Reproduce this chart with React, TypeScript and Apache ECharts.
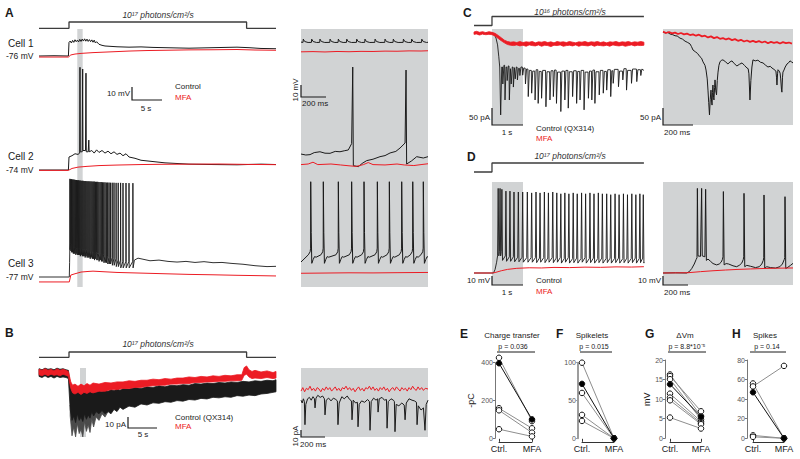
import React, { useEffect, useRef } from "react";
import * as echarts from "echarts";

// ======================= DATA =======================
// Light protocols [time (s), light on]
const stimLong = [[-5, 0], [0, 0], [0, 1], [29.6, 1], [29.6, 0], [34.5, 0]];
const stimShort = [[-0.58, 0], [0, 0], [0, 1], [4.9, 1]];
// windows shown in the insets (s)
const insetWindowA = [1.38, 2.28];
const insetWindowB = [1.83, 2.83];
const insetWindowCD = [0, 1];

// ---- Panel A, cell 1 (s, mV)
const a1Control = [[-5,-76],[-2.5,-75.8],[-0.1,-76],[0,-65.5],[0.2,-64.5],[0.4,-66],[0.6,-64],[0.8,-65.5],[1,-63.5],[1.2,-65],[1.4,-63.8],[1.6,-65.2],[1.8,-63.2],[2,-64.8],[2.2,-63],[2.4,-64.5],[2.6,-62.8],[2.8,-64.6],[3,-63],[3.2,-64.8],[3.4,-63.4],[3.6,-65],[3.8,-63.6],[4,-65.4],[4.2,-63.8],[4.4,-66],[4.6,-65],[5,-67],[5.5,-67.8],[6,-68.3],[7,-68.6],[8,-68.9],[10,-69.2],[12,-69],[14,-69.4],[16,-69.6],[18,-69.8],[20,-70],[22,-69.8],[24,-69.6],[26,-69.4],[28,-69.2],[30,-69.6],[32,-70.2],[34.5,-70.4]];
const a1MFA = [[-5,-76.8],[-0.1,-76.8],[0.3,-75.2],[1,-74.5],[2,-74],[4,-73.4],[6,-73],[8,-72.6],[10,-72.2],[13,-71.8],[16,-71.6],[20,-71.3],[24,-71.2],[28,-71],[31,-71.4],[34.5,-71.6]];
// ---- Panel A, cell 2
const a2Control = [[-5,-74],[-0.1,-74],[0,-64],[0.5,-63],[1,-61.5],[1.5,-62],[1.78,-61],[1.83,5],[1.88,-60],[2.2,-60],[2.28,3.7],[2.33,-59],[2.75,-59],[2.83,0.5],[2.88,-60],[3.2,-60],[3.3,-51],[3.36,-60],[3.8,-59],[4.2,-61],[4.6,-58.5],[5,-60.5],[5.5,-59],[6,-61],[6.5,-59.5],[7,-61.5],[7.5,-60],[8,-62],[8.5,-61],[9,-63],[9.5,-61.5],[10,-64],[11,-65],[12,-66.5],[14,-67.5],[16,-68.5],[20,-69.5],[24,-69.8],[28,-70],[32,-69.5],[34.5,-69.8]];
const a2MFA = [[-5,-74.3],[-0.1,-74.3],[0.5,-72.8],[1.5,-71.8],[3,-71.2],[5,-70.6],[8,-70.2],[12,-69.8],[16,-69.6],[20,-69.5],[25,-69.4],[30,-69.7],[34.5,-69.9]];
// ---- Panel A, cell 3: spikes [time, peak, trough]
const a3Pre = [[-5,-77],[0.05,-77],[0.1,-66]];
const a3Spikes = [[0.15,-1.5,-56],[0.28,-1.8,-57],[0.41,-1.8,-58],[0.55,-2,-58],[0.69,-2,-59],[0.83,-2.2,-59],[0.97,-2.2,-59],[1.11,-2.4,-60],[1.26,-2.4,-59],[1.41,-2.6,-60],[1.56,-2.6,-60],[1.71,-2.8,-60],[1.86,-2.8,-61],[2.02,-3,-60],[2.18,-3,-61],[2.34,-3,-61],[2.5,-3.2,-61],[2.66,-3.2,-62],[2.82,-3.2,-61],[2.99,-3.4,-62],[3.16,-3.4,-62],[3.33,-3.4,-62],[3.5,-3.5,-63],[3.68,-3.5,-62],[3.86,-3.6,-63],[4.04,-3.6,-63],[4.22,-3.6,-64],[4.41,-3.8,-63],[4.6,-3.8,-64],[4.79,-3.8,-64],[4.98,-4,-65],[5.18,-4,-64],[5.38,-4,-65],[5.58,-4.2,-65],[5.79,-4.2,-66],[6.0,-4.2,-66],[6.22,-4.4,-66],[6.44,-4.4,-67],[6.67,-4.4,-67],[6.9,-4.5,-67],[7.2,-4.5,-68],[7.5,-4.5,-68],[7.85,-4.6,-69],[8.2,-4.6,-69],[8.6,-4.6,-70],[9.0,-4.7,-70],[9.5,-4.7,-70],[10.0,-4.8,-70],[10.65,-4.8,-70]];
const a3Post = [[10.9,-64],[11.5,-62.5],[12.5,-63.5],[13.5,-64.5],[15,-64],[16.5,-65],[18,-65.5],[19.5,-65],[21,-65.8],[22.5,-65.2],[24,-66],[25.5,-65.8],[27,-66.5],[29,-67.2],[31,-68.3],[33,-69],[34.5,-68.8]];
const a3MFA = [[-5,-80.8],[0.05,-80.8],[0.3,-75.5],[1,-74.5],[2,-73.2],[3,-72.8],[4,-72.5],[6,-73],[8,-73.5],[12,-74],[16,-74.5],[20,-75],[24,-75.3],[28,-75.7],[32,-76],[34.5,-76.2]];

// ---- Panel A insets (ms, mV)
const ar1Bumps = [19, 89, 158, 242, 311, 381, 464, 533, 617, 700, 769, 853, 922, 1006];
const ar1BumpShape = [[-2,-65.3],[0,-62.6],[12,-64.6],[40,-65.4]];
const ar1MFA = [[0,-73.2],[100,-73],[200,-73.3],[300,-72.9],[400,-73.1],[500,-72.8],[600,-72.9],[700,-72.6],[800,-72.7],[900,-72.4],[1000,-72.5],[1058,-72.3]];
const ar2Control = [[0,-60.7],[40,-61.5],[75,-61.2],[110,-59.5],[158,-58.8],[200,-60],[242,-60.1],[285,-58.5],[325,-58.8],[360,-58],[394,-57.3],[422,-52],[431,11.8],[436,-70.4],[478,-71.2],[510,-68.5],[547,-66.2],[600,-65],[658,-62.9],[700,-62],[742,-59.8],[790,-58.5],[825,-55.7],[867,-51.5],[875,9.3],[880,-69],[920,-66.5],[964,-62.9],[1019,-64],[1058,-62.9]];
const ar2MFA = [[0,-69.5],[60,-69],[100,-67.5],[140,-69.5],[250,-69],[330,-69.8],[400,-70.5],[460,-71],[520,-69.5],[560,-67.8],[600,-69.5],[700,-69.8],[800,-69],[860,-69.8],[940,-70.3],[1000,-69.5],[1058,-68.8]];
const ar3SpikeTimes = [81, 186, 311, 422, 525, 636, 736, 839, 931, 1019];
const ar3SpikeShape = [[-20,-58.5],[-5,-56],[-1,-53],[0,2.4],[4,-40],[9,-65.6],[20,-62.5],[32,-60],[45,-60.5]];
const ar3Start = [[0,-64.5]];
const ar3End = [[1058,-60.5]];
const ar3MFA = [[0,-73.9],[200,-73.7],[400,-73.5],[600,-73.6],[800,-73.4],[1058,-73.2]];

// ---- Panel B (s, pA) noisy traces as envelopes [time, upper, lower]
const bControl = [[-5,3,-4],[-4.5,2,-5],[-4,3.5,-3.5],[-3.5,2.5,-5],[-3,3,-4],[-2.5,2,-5.5],[-2,3.5,-4],[-1.5,2.5,-5],[-1,3,-4.5],[-0.5,2,-5],[-0.1,1.5,-6],[0.2,-12,-34],[0.5,-17,-44],[0.8,-19,-40],[1.1,-17,-46],[1.4,-18.5,-38],[1.7,-17,-44],[2,-19,-41],[2.3,-17.5,-45],[2.6,-19,-38],[2.9,-17,-43],[3.2,-18.5,-39],[3.5,-17.5,-42],[3.8,-19,-36],[4.1,-17,-40],[4.5,-18.5,-36],[5,-17,-38],[5.5,-18,-35],[6,-16.5,-38],[6.5,-17.5,-36],[7,-16,-38],[7.5,-17,-34],[8,-15.5,-36],[8.5,-16.5,-32],[9,-15,-34],[10,-15.5,-31],[11,-14,-32],[12,-15,-29],[13,-13.5,-30],[14,-14,-28],[15,-12.5,-28.5],[16,-13.5,-27],[17,-12,-27.5],[18,-12.5,-26],[19,-11.5,-26.5],[20,-12,-25],[21,-10.5,-25.5],[22,-11,-24],[23,-10,-24.5],[24,-10.5,-23],[25,-9.5,-23.5],[26,-10,-22.5],[27,-9,-23],[28,-9.5,-21.5],[29,-8.5,-22],[30,-9,-21],[31,-8,-21.5],[32,-8.5,-20],[33,-7.5,-19.5],[34,-8,-18.5],[34.5,-7,-18]];
// deepest, sparser downward events of the control trace just after light onset
const bControlDeep = [[0.2,-30,-40],[0.5,-40,-58],[0.8,-36,-50],[1.1,-42,-59],[1.4,-35,-47],[1.7,-40,-56],[2,-38,-52],[2.3,-41,-59],[2.6,-35,-45],[2.9,-39,-54],[3.2,-36,-48],[3.5,-39,-55],[3.8,-33,-43],[4.1,-37,-50],[4.5,-33,-41],[5,-35,-44],[5.5,-33,-38],[6,-35,-41],[6.5,-34,-36]];
const bMFA = [[-5,2.5,-2.5],[-4.5,1.5,-3.5],[-4,3,-2],[-3.5,1.5,-3.5],[-3,2.5,-2],[-2.5,1,-3],[-2,3,-2.5],[-1.5,1.5,-3.5],[-1,2.5,-2],[-0.5,1.5,-3],[-0.1,0.5,-4],[0.3,-9,-15],[0.6,-12,-19],[1,-11,-20],[1.5,-13,-18.5],[2,-11,-20.5],[2.5,-12.5,-18.5],[3,-10.5,-19.5],[3.5,-12,-18],[4,-10,-19],[5,-11,-17.5],[6,-9.5,-17.5],[7,-10,-16],[8,-9,-16],[9,-9,-15],[10,-8,-15],[11,-8.5,-14],[12,-7.5,-14],[13,-7.5,-13],[14,-6.5,-12.5],[15,-7,-12],[16,-6,-12],[17,-6.5,-11],[18,-5.5,-11],[19,-5.5,-10.5],[20,-4.5,-10.5],[21,-5,-9.5],[22,-4,-9.5],[23,-4.5,-9],[24,-3.5,-9],[25,-4,-8.5],[26,-3,-8.5],[27,-3.5,-8],[28,-2.5,-8],[28.8,-2.5,-7.5],[29.2,4,-3],[29.6,5.5,-2],[30,2,-4.5],[30.5,0.5,-6],[31,1.5,-5.5],[32,0,-6],[33,1,-5],[34,-0.5,-6],[34.5,0.5,-5.5]];
// ---- Panel B inset (ms, pA)
const bRControl = [[0,-16],[10,-20],[20,-14],[28,-18],[33,-51],[40,-22],[55,-14],[70,-12],[85,-16],[100,-11],[112,-14],[117,-27],[125,-13],[140,-9],[160,-12],[180,-10],[195,-14],[200,-37],[210,-16],[230,-13],[250,-17],[270,-13],[290,-15],[303,-17],[308,-51],[318,-20],[340,-11],[360,-14],[385,-10],[405,-15],[420,-17],[425,-44],[435,-16],[455,-20],[470,-19],[475,-54],[485,-22],[505,-17],[530,-19],[555,-15],[570,-18],[575,-59],[585,-18],[605,-13],[625,-16],[638,-14],[642,-33],[652,-14],[675,-12],[695,-16],[712,-15],[717,-56],[727,-18],[750,-14],[770,-16],[778,-18],[783,-61],[793,-22],[815,-24],[840,-20],[860,-23],[867,-44],[877,-20],[900,-14],[925,-16],[945,-17],[962,-19],[967,-51],[977,-24],[1000,-30],[1020,-27],[1033,-59],[1043,-22],[1058,-16]];
const bRMFA = [[0,-3],[15,2],[30,-4],[45,1],[60,-1],[75,4],[90,-2],[105,1],[120,-3],[135,2],[150,0],[165,-4],[180,1],[195,-2],[210,3],[225,-1],[240,2],[255,-3],[270,0],[285,3],[300,-2],[315,1],[330,-3],[345,2],[360,0],[375,4],[390,-1],[405,2],[420,-2],[435,1],[450,-4],[465,0],[480,3],[495,-2],[510,1],[525,-3],[540,2],[555,0],[570,4],[585,-1],[600,3],[615,-2],[630,1],[645,-3],[660,2],[675,-1],[690,3],[705,-2],[720,1],[735,-4],[750,0],[765,2],[780,-2],[795,3],[810,0],[825,-3],[840,2],[855,-1],[870,1],[885,-3],[900,2],[915,-1],[930,4],[945,0],[960,-2],[975,3],[990,-1],[1005,2],[1020,-2],[1035,1],[1058,0]];

// ---- Panel C (s, pA)
const cControlPre = [[-0.58,-2],[-0.5,1],[-0.42,-4],[-0.34,0],[-0.26,-3],[-0.18,1],[-0.1,-2],[0,0],[0.08,-5],[0.13,-15],[0.18,-35],[0.22,-70],[0.25,-100]];
// events [time, peak, level after]
const cEvents = [[0.28,-241,-100],[0.35,-150,-95],[0.42,-197,-100],[0.49,-140,-97],[0.56,-197,-105],[0.62,-150,-100],[0.69,-159,-102],[0.75,-135,-100],[0.82,-138,-104],[0.9,-125,-100],[0.99,-124,-103],[1.08,-150,-106],[1.17,-187,-110],[1.28,-177,-112],[1.39,-197,-108],[1.49,-207,-113],[1.6,-192,-110],[1.74,-217,-114],[1.87,-197,-111],[1.98,-187,-109],[2.08,-207,-115],[2.22,-231,-112],[2.35,-197,-110],[2.46,-221,-114],[2.6,-187,-111],[2.73,-207,-113],[2.84,-197,-110],[2.97,-226,-115],[3.11,-192,-112],[3.22,-197,-109],[3.32,-207,-114],[3.46,-182,-110],[3.59,-177,-113],[3.7,-168,-108],[3.83,-187,-111],[3.91,-148,-107],[4.08,-158,-112],[4.22,-138,-105],[4.34,-168,-110],[4.5,-148,-106],[4.67,-143,-108],[4.8,-125,-106]];
const cControlEnd = [[4.9,-110]];
// MFA trace envelope [time, upper, lower]
const cMFA = [[-0.58,3,-4],[-0.5,5,-3],[-0.4,2,-6],[-0.3,4,-3],[-0.2,1,-5],[-0.1,4,-4],[0,2,-5],[0.1,-1,-9],[0.2,-7,-16],[0.3,-14,-23],[0.4,-21,-29],[0.5,-25,-34],[0.6,-27,-36],[0.7,-26,-37],[0.8,-28,-35],[0.9,-25,-38],[1.0,-28,-36],[1.1,-26,-39],[1.2,-27,-35],[1.3,-25,-37],[1.4,-29,-38],[1.5,-26,-35],[1.6,-27,-39],[1.7,-25,-36],[1.8,-28,-37],[1.9,-26,-40],[2.0,-29,-36],[2.1,-25,-37],[2.2,-27,-35],[2.3,-26,-39],[2.4,-28,-37],[2.5,-25,-36],[2.6,-27,-38],[2.7,-29,-35],[2.8,-26,-39],[2.9,-27,-36],[3.0,-25,-37],[3.1,-28,-38],[3.2,-26,-35],[3.3,-27,-39],[3.4,-25,-36],[3.5,-28,-37],[3.6,-26,-38],[3.7,-29,-36],[3.8,-26,-39],[3.9,-27,-35],[4.0,-25,-37],[4.1,-28,-38],[4.2,-26,-36],[4.3,-27,-39],[4.4,-25,-37],[4.5,-28,-35],[4.6,-26,-38],[4.7,-27,-36],[4.8,-25,-37],[4.9,-27,-36]];
// ---- Panel C inset (ms, pA)
const cRControl = [[0,3],[15,0],[30,2],[47,-3],[65,-5],[80,-8],[95,-9],[113,-15],[130,-18],[147,-24],[165,-28],[180,-32],[190,-40],[200,-50],[215,-55],[230,-60],[247,-70],[257,-74],[267,-85],[280,-95],[287,-109],[295,-135],[300,-168],[305,-205],[310,-241],[315,-195],[320,-168],[324,-200],[327,-212],[330,-175],[333,-153],[337,-190],[340,-197],[344,-160],[347,-138],[352,-170],[357,-182],[362,-140],[367,-115],[373,-95],[380,-85],[390,-80],[400,-79],[415,-84],[433,-91],[447,-85],[460,-82],[475,-90],[493,-97],[510,-92],[527,-88],[545,-96],[560,-103],[568,-105],[573,-120],[580,-197],[586,-140],[593,-100],[600,-79],[615,-82],[633,-80],[650,-86],[667,-88],[685,-95],[700,-100],[715,-98],[727,-103],[740,-107],[753,-112],[757,-130],[760,-153],[764,-120],[767,-108],[775,-112],[781,-118],[785,-135],[790,-165],[793,-174],[797,-130],[800,-115],[807,-109],[815,-100],[827,-91],[837,-88],[847,-82],[857,-85],[867,-88]];
const cRMFAStep = 20; // ms sampling
const cRMFA = [4,0,3,-1,1,-3,0,-4,-2,-6,-4,-8,-5,-10,-8,-13,-10,-15,-12,-17,-15,-19,-16,-21,-18,-23,-20,-25,-22,-26,-23,-27,-24,-28,-25,-30,-26,-29,-27,-31,-27,-30,-28,-31];

// ---- Panel D (s, mV relative to rest)
const dControlPre = [[-0.58,0],[0.05,0],[0.1,4],[0.15,12]];
const dSpikes = [[0.2,94,19],[0.26,94,19],[0.32,93,14],[0.45,91,13],[0.58,91,13],[0.71,90,12.5],[0.85,90,12.5],[0.99,90,12],[1.14,90,12],[1.28,89,12],[1.42,90,11.5],[1.55,89,12],[1.69,90,11.5],[1.82,89,12],[1.96,90,11.5],[2.09,89,12],[2.22,88,11],[2.35,89,12],[2.48,88,11],[2.62,89,11.5],[2.75,88,11],[2.89,89,12],[3.02,88,11],[3.16,89,11.5],[3.29,88,11],[3.43,89,11.5],[3.56,88,11],[3.7,88,11.5],[3.83,87,11],[3.97,88,11.5],[4.1,87,11],[4.24,88,11.5],[4.37,87,11],[4.51,88,11.5],[4.64,87,11],[4.77,88,11.5],[4.88,87,11]];
const dControlEnd = [[4.9,12]];
const dMFA = [[-0.58,0],[0,0],[0.1,0.5],[0.3,2.5],[0.5,4],[0.8,5.2],[1.2,5.8],[1.6,5.6],[2,6.2],[2.5,6],[3,6.5],[3.5,6.3],[4,6.8],[4.5,6.6],[4.9,7]];
// ---- Panel D inset (ms, mV)
const dRControl = [[0,0],[100,0.2],[189,0],[210,1.5],[230,5],[250,10],[265,15],[272,17],[275,94],[280,19],[300,18.5],[309,94],[314,19],[335,18],[341,93],[347,14],[360,15.5],[380,13],[400,10.5],[429,9],[450,10],[465,12],[475,15],[480,18],[483,90.5],[489,9],[505,10.5],[525,10],[560,8],[589,7],[610,8.5],[630,11],[642,15],[646,18],[648,88.5],[654,7],[670,8.5],[700,7.5],[740,6],[770,7],[790,10],[802,14],[806,17],[808,86.7],[814,5.2],[830,7],[860,6],[900,5.5],[935,7],[955,10],[970,15],[974,17],[976,84.8],[982,5],[1000,6.5],[1020,8.5],[1040,10.7]];
const dRMFA = [[0,0],[200,0.3],[300,1.5],[400,2.5],[500,3.3],[600,4],[700,4.5],[800,5],[900,5.3],[1040,5.6]];

// ---- Panels E-H: paired values (Ctrl., MFA); filledIdx marks the example cell
const groups = ["Ctrl.", "MFA"];
const eCtrl = [426, 397, 159, 148, 48];
const eMFA = [91, 100, 53, 30, 10];
const eFilled = 1;
const fCtrl = [100, 72, 60, 31, 23];
const fMFA = [0, 0, 0, 0, 0];
const fFilled = 1;
const gCtrl = [16.3, 15.9, 15.1, 13.8, 11.4, 10.4, 9.7, 5.3];
const gMFA = [5.7, 6.9, 4.8, 5.5, 4.3, 3.9, 3.6, 2.5];
const gFilled = 3;
const hCtrl = [56, 53, 47, 3, 1.5];
const hMFA = [0, 74, 0, 0, 0];
const hFilled = 2;

// ======================= STYLE =======================
const FONT = "'Liberation Sans', Arial, Helvetica, sans-serif";
const INK = "#1a1a1a";
const RED = "#ec1c24";
const SHADE = "#d1d3d4";
const STIM = "#3c3c3c";
const PAIR_GRAY = "#8e8e8e";

function yRange(top: number, height: number, refVal: number, refPx: number, ppu: number) {
  const max = refVal + (refPx - top) / ppu;
  return [max - height / ppu, max];
}

function buildOption() {
  const grid: any[] = [], xAxis: any[] = [], yAxis: any[] = [], series: any[] = [], graphic: any[] = [];

  const addGrid = (left: number, top: number, width: number, height: number, xr: number[], yr: number[], bg?: string) => {
    const i = grid.length;
    grid.push({ left, top, width, height, show: !!bg, backgroundColor: bg || "transparent", borderWidth: 0 });
    xAxis.push({ gridIndex: i, type: "value", min: xr[0], max: xr[1], show: false });
    yAxis.push({ gridIndex: i, type: "value", min: yr[0], max: yr[1], show: false });
    return i;
  };
  const trace = (g: number, data: any[], color: string, width = 1, z = 3) =>
    series.push({ type: "line", xAxisIndex: g, yAxisIndex: g, data, symbol: "none", showSymbol: false,
      lineStyle: { color, width }, clip: false, silent: true, z });
  const shade = (g: number, win: number[]) =>
    series.push({ type: "line", xAxisIndex: g, yAxisIndex: g, data: [], symbol: "none", z: 1, silent: true,
      markArea: { silent: true, label: { show: false }, itemStyle: { color: SHADE }, data: [[{ xAxis: win[0] }, { xAxis: win[1] }]] } });
  const band = (g: number, rows: number[][], color: string, z = 3) =>
    series.push({ type: "custom", xAxisIndex: g, yAxisIndex: g, coordinateSystem: "cartesian2d", z, silent: true, clip: false,
      data: [[rows[0][0], rows[0][1]]],
      renderItem: (_p: any, api: any) => {
        const pts = rows.map((r) => api.coord([r[0], r[1]]));
        for (let k = rows.length - 1; k >= 0; k--) pts.push(api.coord([rows[k][0], rows[k][2]]));
        return { type: "polygon", shape: { points: pts }, style: { fill: color, stroke: color, lineWidth: 0.8 } };
      } });
  const stamp = (times: number[], shape: number[][], maxT: number) => {
    const out: number[][] = [];
    times.forEach((t) => shape.forEach(([dt, v]) => { if (t + dt <= maxT) out.push([t + dt, v]); }));
    return out;
  };
  const spikeTrain = (pre: number[][], spikes: number[][], startTrough: number, preDt: number, postDt: number, rise: number, post: number[][]) => {
    const out = [...pre];
    let prev = startTrough;
    spikes.forEach(([t, pk, tr]) => { out.push([t - preDt, prev + rise], [t, pk], [t + postDt, tr]); prev = tr; });
    return out.concat(post);
  };
  const sampled = (t0: number, dt: number, vals: number[]) => vals.map((v, k) => [t0 + k * dt, v]);

  // ---------- Panel A ----------
  const xA = [-5, 34.5];
  const gAs = addGrid(39, 22, 237, 6.3, xA, [0, 1]);
  trace(gAs, stimLong, STIM, 1.3);
  const gAsh = addGrid(39, 29, 237, 258, xA, [0, 1]);
  shade(gAsh, insetWindowA);
  const gA1 = addGrid(39, 29, 237, 60, xA, yRange(29, 60, -76, 56, 1.3));
  trace(gA1, a1Control, INK); trace(gA1, a1MFA, RED);
  const gA2 = addGrid(39, 89, 237, 106, xA, yRange(89, 106, -74, 170, 1.3));
  trace(gA2, a2Control, INK); trace(gA2, a2MFA, RED);
  const gA3 = addGrid(39, 195, 237, 92, xA, yRange(195, 92, -77, 277, 1.3));
  trace(gA3, spikeTrain(a3Pre, a3Spikes, -62, 0.02, 0.03, 5, a3Post), INK, 0.9); trace(gA3, a3MFA, RED);

  const xAR = [0, 1058];
  const gR1 = addGrid(301, 29, 127, 60, xAR, yRange(29, 60, -65, 42, 1.2), SHADE);
  trace(gR1, [[0, -65.1], ...stamp(ar1Bumps, ar1BumpShape, 1058), [1058, -65.2]], INK); trace(gR1, ar1MFA, RED);
  const gR2 = addGrid(301, 89, 127, 106, xAR, yRange(89, 106, -74, 170, 1.2), SHADE);
  trace(gR2, ar2Control, INK); trace(gR2, ar2MFA, RED);
  const gR3 = addGrid(301, 195, 127, 92, xAR, yRange(195, 92, -77, 277, 1.2), SHADE);
  trace(gR3, [...ar3Start, ...stamp(ar3SpikeTimes, ar3SpikeShape, 1058), ...ar3End], INK); trace(gR3, ar3MFA, RED);

  // ---------- Panel B ----------
  const gBs = addGrid(39, 352, 237, 5.3, xA, [0, 1]);
  trace(gBs, stimLong, STIM, 1.3);
  const gBsh = addGrid(39, 368, 237, 69, xA, [0, 1]);
  shade(gBsh, insetWindowB);
  const gB = addGrid(39, 362, 237, 80, xA, yRange(362, 80, 0, 372, 1.1));
  band(gB, bControlDeep, "#4a4a4a", 2); band(gB, bControl, INK, 3); band(gB, bMFA, RED, 4);
  const gBR = addGrid(301, 368, 127, 69, xAR, yRange(368, 69, 0, 389, 0.7), SHADE);
  trace(gBR, bRControl, INK); trace(gBR, bRMFA, RED);

  // ---------- Panel C ----------
  const xC = [-0.58, 4.903];
  const gCs = addGrid(474, 16.5, 170, 9, xC, [0, 1]);
  trace(gCs, stimShort, STIM, 1.3);
  const gC = addGrid(474, 29, 170, 96, xC, yRange(29, 96, 0, 33, 0.34));
  shade(gC, insetWindowCD);
  trace(gC, spikeTrain(cControlPre, cEvents, -100, 0.012, 0.035, 0, cControlEnd), INK, 0.9);
  band(gC, cMFA, RED, 4);
  const gCR = addGrid(663, 29, 130, 96, [0, 867], yRange(29, 96, 0, 33, 0.34), SHADE);
  trace(gCR, cRControl, INK, 1); trace(gCR, sampled(0, cRMFAStep, cRMFA), RED, 1.8);

  // ---------- Panel D ----------
  const gDs = addGrid(474, 163, 170, 9, xC, [0, 1]);
  trace(gDs, stimShort, STIM, 1.3);
  const gD = addGrid(474, 182, 170, 103, xC, yRange(182, 103, 0, 273, 0.9));
  shade(gD, insetWindowCD);
  trace(gD, spikeTrain(dControlPre, dSpikes, 14, 0.02, 0.02, 5, dControlEnd), INK, 0.9); trace(gD, dMFA, RED);
  const gDR = addGrid(663, 182, 130, 103, [0, 1040], yRange(182, 103, 0, 273, 0.9), SHADE);
  trace(gDR, dRControl, INK); trace(gDR, dRMFA, RED);

  // ---------- Panels E-H ----------
  const pairPanel = (left: number, top: number, width: number, height: number, yMax: number, interval: number, yOffset: number,
    ctrl: number[], mfa: number[], filled: number, name: string, nameGap: number, axisColor: string, axisWidth: number) => {
    const i = grid.length;
    grid.push({ left, top, width, height, show: false });
    xAxis.push({ gridIndex: i, type: "category", data: groups, boundaryGap: false, offset: 3.5,
      axisLine: { show: true, onZero: false, lineStyle: { color: "#333", width: 1 } },
      axisTick: { show: true, inside: true, length: 3, lineStyle: { color: "#333" } },
      axisLabel: { show: true, interval: 0, fontSize: 9, color: INK, margin: 3, fontFamily: FONT },
      splitLine: { show: false } });
    yAxis.push({ gridIndex: i, type: "value", min: 0, max: yMax, interval, offset: yOffset,
      axisLine: { show: true, lineStyle: { color: axisColor, width: axisWidth } },
      axisTick: { show: true, length: 2, lineStyle: { color: axisColor } },
      axisLabel: { fontSize: 7, color: "#555", margin: 2, fontFamily: FONT },
      splitLine: { show: false },
      name, nameLocation: "middle", nameRotate: 90, nameGap, nameTextStyle: { fontSize: 9, color: INK, fontFamily: FONT } });
    ctrl.forEach((c, k) => {
      const isF = k === filled;
      series.push({ type: "line", xAxisIndex: i, yAxisIndex: i, data: [c, mfa[k]], symbol: "circle", symbolSize: 5.5, showSymbol: true,
        itemStyle: { color: isF ? "#000" : "#fff", borderColor: "#111", borderWidth: 1 },
        lineStyle: { color: isF ? "#111" : PAIR_GRAY, width: 1 }, z: isF ? 6 : 4, silent: true, clip: false });
    });
  };
  pairPanel(499, 362.7, 33, 75.6, 400, 200, 4, eCtrl, eMFA, eFilled, "-pC", 20, "#777", 1);
  pairPanel(582, 362.7, 32, 75.6, 100, 50, 4, fCtrl, fMFA, fFilled, "", 0, "#9d9d9d", 2);
  pairPanel(670, 360, 31, 78.3, 20, 5, 5, gCtrl, gMFA, gFilled, "mV", 14, "#777", 1);
  pairPanel(753, 360, 31, 78.3, 80, 20, 6, hCtrl, hMFA, hFilled, "", 0, "#777", 1);

  // ---------- annotations ----------
  const text = (x: number, y: number, s: string, o: any = {}) => graphic.push({
    type: "text", x, y, rotation: o.rot || 0, silent: true, z: 10,
    style: { text: s, fill: o.color || INK, fontSize: o.size || 8, fontFamily: FONT, fontWeight: o.weight || "normal",
      fontStyle: o.italic ? "italic" : "normal", textAlign: o.align || "left", textVerticalAlign: "middle",
      align: o.align || "left", verticalAlign: "middle" } });
  const poly = (pts: number[][], o: any = {}) => graphic.push({ type: "polyline", shape: { points: pts }, silent: true, z: 10,
    style: { stroke: o.color || INK, lineWidth: o.w || 1.2 } });

  const L = { size: 12, weight: "bold" };
  text(5, 12.5, "A", L); text(5, 333, "B", L); text(463, 13, "C", L); text(467, 157, "D", L);
  text(460, 333.5, "E", L); text(556, 333.5, "F", L); text(645, 333.5, "G", L); text(732, 333.5, "H", L);

  const stimT = { size: 8.5, italic: true, align: "center", color: "#333" };
  text(158, 14.5, "10¹⁷ photons/cm²/s", stimT);
  text(158, 343.5, "10¹⁷ photons/cm²/s", stimT);
  text(570, 11.5, "10¹⁶ photons/cm²/s", stimT);
  text(570, 155.5, "10¹⁷ photons/cm²/s", stimT);

  text(8, 43, "Cell 1", { size: 10 }); text(6, 56, "-76 mV", { size: 8.5 });
  text(8, 156.5, "Cell 2", { size: 10 }); text(6, 169.5, "-74 mV", { size: 8.5 });
  text(8, 263, "Cell 3", { size: 10 }); text(6, 277, "-77 mV", { size: 8.5 });

  // scale bars + legends
  poly([[132, 87], [132, 100], [162, 100]]); text(130, 93, "10 mV", { align: "right" }); text(146, 108, "5 s", { align: "center" });
  text(175, 86, "Control"); text(175, 97, "MFA", { color: RED });
  poly([[301, 85], [301, 97], [326, 97]]); text(295.5, 90, "10 mV", { rot: Math.PI / 2, align: "center" }); text(302, 103.5, "200 ms");

  poly([[128, 417], [128, 428], [157, 428]]); text(126, 424, "10 pA", { align: "right" }); text(143, 434.5, "5 s", { align: "center" });
  text(175, 417, "Control (QX314)"); text(175, 426.5, "MFA", { color: RED });
  poly([[301, 430], [301, 437], [325, 437]]); text(295, 436, "10 pA", { rot: Math.PI / 2, align: "center" }); text(300, 444.5, "200 ms");

  poly([[492, 108], [492, 125], [523, 125]]); text(490, 117, "50 pA", { align: "right" }); text(507, 132, "1 s", { align: "center" });
  text(536, 128.5, "Control (QX314)"); text(536, 138, "MFA", { color: RED });
  poly([[663, 108], [663, 125], [693, 125]]); text(661, 117, "50 pA", { align: "right" }); text(664, 132, "200 ms");

  poly([[492, 276], [492, 285], [523, 285]]); text(490, 280, "10 mV", { align: "right" }); text(507, 292, "1 s", { align: "center" });
  text(536, 280, "Control"); text(536, 291, "MFA", { color: RED });
  poly([[663, 276], [663, 285], [688, 285]]); text(661, 280, "10 mV", { align: "right" }); text(664, 292, "200 ms");

  // E-H titles and p-values
  const ttl = { size: 8, align: "center" };
  const pv = { size: 7, align: "center" };
  text(512, 335, "Charge transfer", ttl); text(513, 346, "p = 0.036", pv); poly([[497, 352], [535, 352]], { w: 1 });
  text(592, 335, "Spikelets", ttl); text(594, 346, "p = 0.015", pv); poly([[580, 352], [612, 352]], { w: 1 });
  text(685, 335, "ΔVm", ttl); text(687, 346, "p = 8.8*10⁻⁵", pv); poly([[668, 352], [706, 352]], { w: 1 });
  text(765, 335, "Spikes", ttl); text(767, 346, "p = 0.14", pv); poly([[750, 352], [786, 352]], { w: 1 });

  return { animation: false, backgroundColor: "#ffffff", textStyle: { fontFamily: FONT }, grid, xAxis, yAxis, series, graphic: { elements: graphic } };
}

export default function App() {
  const ref = useRef<HTMLDivElement>(null);
  useEffect(() => {
    const chart = echarts.init(ref.current as HTMLDivElement, null, { renderer: "svg" });
    chart.setOption(buildOption() as any);
    return () => chart.dispose();
  }, []);
  return <div ref={ref} style={{ position: "absolute", left: 0, top: 0, width: 800, height: 459 }} />;
}
